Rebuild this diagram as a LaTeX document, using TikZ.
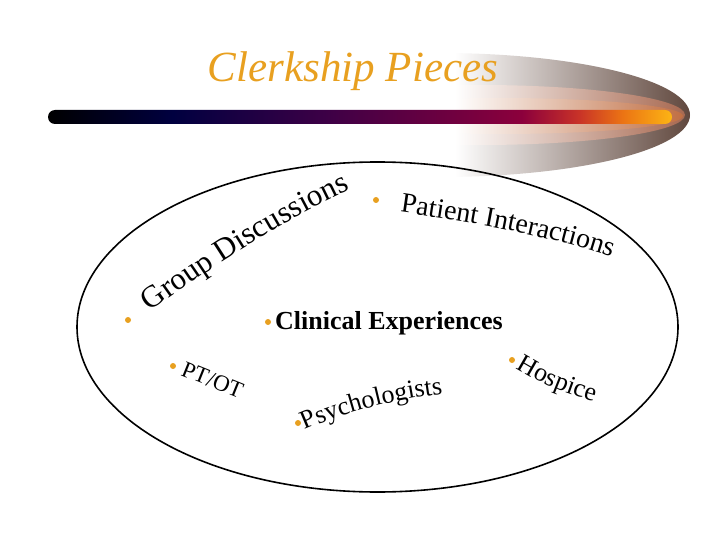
\documentclass[tikz,border=0pt]{standalone}
\usepackage{fontspec}
\setmainfont{Liberation Serif}
\usetikzlibrary{positioning,decorations.text}
\definecolor{clerkorange}{RGB}{232,160,32}
\definecolor{barnavy}{RGB}{0,0,64}
\definecolor{barpurple}{RGB}{62,0,70}
\definecolor{barcrimson}{RGB}{140,0,60}
\definecolor{barred}{RGB}{200,50,40}
\definecolor{barorange}{RGB}{235,115,20}
\definecolor{bargold}{RGB}{252,180,20}
\definecolor{swooshouter}{RGB}{95,70,60}
\definecolor{swooshmid}{RGB}{165,100,75}
\definecolor{swooshinner}{RGB}{190,105,60}
\pgfdeclarehorizontalshading{barshade}{100bp}{color(0bp)=(black); color(25bp)=(black);
  color(35bp)=(barnavy); color(47.5bp)=(barpurple); color(63bp)=(barcrimson);
  color(67.5bp)=(barred); color(71bp)=(barorange); color(75bp)=(bargold); color(100bp)=(bargold)}
\tikzset{
  titletext/.style={font=\fontsize{43}{50}\selectfont\itshape, text=clerkorange, anchor=base, inner sep=0pt},
  itemtext/.style={font=\fontsize{23}{26}\selectfont, anchor=base west, inner sep=0pt},
  boldtext/.style={font=\fontsize{26}{30}\selectfont\bfseries, anchor=base west, inner sep=0pt},
  dot/.style={circle, fill=clerkorange, inner sep=0pt, minimum size=6pt},
  curvetext/.style={decorate, decoration={text along path, text align=left, text={#1}}},
}

\begin{document}
\begin{tikzpicture}[x=1pt, y=-1pt]
  \useasboundingbox (0,0) rectangle (720,540);
  % swoosh behind the bar
  \begin{scope}
    \clip (440,115) ellipse [x radius=250, y radius=62];
    \shade[left color=white, right color=swooshouter] (455,40) rectangle (692,190);
  \end{scope}
  \begin{scope}
    \clip (480,115) ellipse [x radius=205, y radius=30];
    \shade[left color=white, right color=swooshmid] (455,70) rectangle (692,160);
  \end{scope}
  \begin{scope}
    \clip (500,116) ellipse [x radius=183, y radius=18];
    \shade[left color=white, right color=swooshinner] (455,90) rectangle (692,140);
  \end{scope}
  \shade[shading=barshade, rounded corners=7pt] (48,110) rectangle (672,124);
  \node[titletext] (title) at (353,82) {Clerkship Pieces};
  % big oval
  \draw[line width=1.6pt] (377.5,327) ellipse [x radius=300.5, y radius=165];
  % items
  \node[dot] (dotgroup) at (128,320) {};
  \path[curvetext={|\fontsize{31}{31}\selectfont|Group Discussions}]
    (150,312) .. controls (210,268) and (280,222) .. (350,190);
  \node[dot] (dotpatient) at (376,200) {};
  \path[curvetext={|\fontsize{28}{28}\selectfont|Patient Interactions}]
    (400,212) .. controls (470,222) and (550,236) .. (614,258);
  \node[dot] (dotclinical) at (268,322) {};
  \node[boldtext] (clinical) at (275,329) {Clinical Experiences};
  \node[dot] (dotpt) at (173,366) {};
  \node[itemtext, rotate=-22] (ptot) at (180,375) {PT/OT};
  \node[dot] (dotpsych) at (298,423) {};
  \path[curvetext={|\fontsize{26}{26}\selectfont|Psychologists}]
    (305,430) .. controls (350,410) and (400,398) .. (458,392);
  \node[dot] (dothospice) at (512,360) {};
  \path[curvetext={|\fontsize{26}{26}\selectfont|Hospice}]
    (516,368) .. controls (545,386) and (572,396) .. (604,404);
\end{tikzpicture}
\end{document}
